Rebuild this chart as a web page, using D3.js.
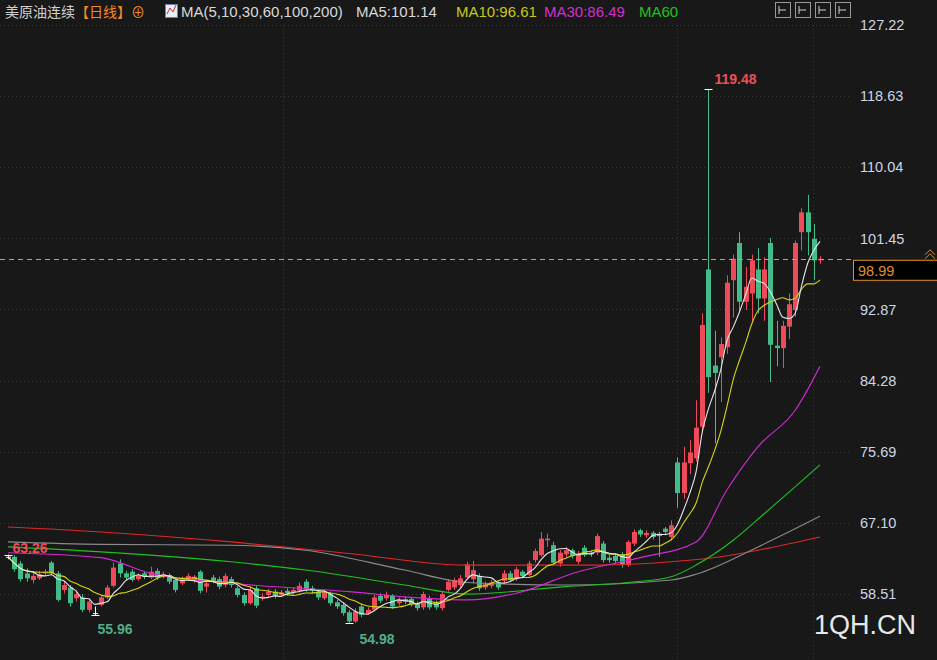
<!DOCTYPE html>
<html>
<head>
<meta charset="utf-8">
<script src="https://cdn.jsdelivr.net/npm/d3@7"></script>
<style>
  body { margin: 0; background: #181818; }
  svg { display: block; font-family: "Liberation Sans", Arial, sans-serif; }
</style>
</head>
<body>
<svg id="chart" width="937" height="660"></svg>
<script>
// candle data
const opens = [
  63.0,63.0,62.2,61.0,60.2,60.4,61.0,62.3,61.0,59.0,59.3,58.0,58.1,56.6,56.2,57.2,58.1,59.5,62.2,61.0,
  61.2,60.3,61.0,60.5,61.3,60.6,60.8,60.2,59.8,60.3,60.2,61.2,59.4,60.5,60.3,59.6,
  60.3,59.2,58.4,57.4,59.2,58.0,58.4,58.8,58.4,58.9,58.7,58.9,60.0,59.2,58.8,58.0,58.5,57.5,57.2,56.3,
  55.2,57.0,56.2,56.6,58.3,58.0,58.3,57.4,57.9,57.9,57.4,56.9,58.0,57.4,56.8,59.0,59.3,59.6,60.5,
  60.3,60.7,59.3,59.5,59.9,60.1,61.0,60.3,61.2,60.8,62.6,63.2,65.0,64.4,62.2,63.3,63.8,62.4,64.1,63.5,
  63.5,64.6,62.9,63.1,63.3,62.0,64.6,66.2,65.6,65.9,65.8,
  66.4,65.4,74.4,70.7,74.3,74.9,78.7,97.7,86.1,87.1,88.3,96.4,100.9,93.8,94.8,97.7,94.2,100.9,88.5,88.2,
  90.8,92.8,102.2,104.6,101.4,98.8
];
const closes = [
  63.0,61.5,60.3,60.4,60.7,60.9,61.2,61.0,57.8,59.6,57.4,58.5,56.6,57.6,56.2,58.1,59.3,61.7,61.0,60.5,
  60.2,60.8,60.6,61.2,60.5,60.9,60.0,59.0,60.3,60.7,60.6,58.9,59.8,60.1,59.4,60.7,
  59.6,58.4,57.4,59.0,57.1,58.2,58.8,58.3,58.7,58.6,59.0,59.5,59.1,58.9,58.1,58.8,57.4,57.0,56.2,55.2,
  56.4,56.0,56.6,58.1,57.7,58.4,57.0,57.8,57.6,57.3,56.8,58.5,56.9,56.9,58.5,60.0,60.2,60.4,62.1,
  61.4,59.2,59.7,59.9,59.3,61.0,60.2,61.5,60.7,62.2,63.7,65.2,65.2,62.3,63.5,63.8,63.1,63.4,63.2,63.3,
  65.5,62.6,62.6,62.5,62.0,64.8,66.0,65.7,65.9,65.4,65.5,
  66.0,66.8,70.7,74.4,75.6,78.6,91.0,84.7,85.2,88.7,96.1,99.0,93.8,95.6,98.8,94.2,97.7,88.6,88.2,90.9,
  93.5,100.9,104.6,102.2,98.8,98.99
];
const highs = [
  63.26,63.2,62.5,61.6,61.2,61.3,61.5,62.5,61.3,60.0,59.6,58.9,58.5,58.0,57.0,58.4,59.6,62.3,62.7,61.3,
  61.5,61.0,61.2,61.8,61.6,61.2,61.0,60.4,60.6,61.0,60.8,61.4,60.1,60.8,60.6,61.0,
  60.6,59.5,58.7,59.4,59.5,58.6,59.1,59.1,59.0,59.2,59.3,59.9,60.3,59.5,59.0,59.1,58.8,57.8,57.5,56.6,
  56.8,57.3,56.9,58.4,58.6,58.8,58.5,58.1,58.2,58.1,57.6,58.8,58.3,57.7,58.8,60.3,60.5,60.8,62.4,
  62.5,61.0,60.0,60.2,60.1,61.4,61.3,61.8,61.4,62.5,64.0,66.0,65.8,64.8,63.8,64.2,64.0,63.7,64.4,63.8,
  65.8,64.9,63.2,63.4,63.6,65.0,66.3,66.4,66.2,66.1,66.0,
  66.6,67.4,75.0,76.3,77.1,81.9,92.4,119.48,90.3,89.5,97.0,99.5,102.2,98.0,99.5,100.3,99.2,101.5,91.5,91.5,
  94.8,101.2,105.1,106.7,103.2,99.3
];
const lows = [
  62.7,61.2,60.0,60.0,59.8,60.2,60.7,60.8,57.6,58.6,57.0,57.6,56.3,56.3,55.96,57.0,57.9,59.3,60.5,60.2,
  60.0,60.1,60.3,60.3,60.2,60.4,59.7,58.7,59.6,60.1,59.9,58.6,58.7,59.8,59.1,59.3,
  59.3,58.1,57.1,57.2,56.8,57.7,58.1,58.0,58.2,58.3,58.5,58.7,58.8,58.6,57.8,57.8,57.1,56.7,55.9,54.98,
  55.0,55.7,56.0,56.4,57.4,57.7,56.7,57.1,57.3,57.0,56.5,56.6,56.6,56.6,56.5,58.8,59.0,59.3,60.3,
  59.8,58.9,59.0,59.2,59.0,59.8,60.0,60.1,60.4,60.6,62.3,63.0,64.2,62.0,61.8,63.0,62.8,62.1,63.0,63.0,
  63.2,62.3,62.3,62.2,61.7,61.8,64.3,65.4,65.3,65.1,63.0,
  65.6,65.0,68.9,70.0,73.0,74.5,78.0,82.8,76.7,81.7,87.5,91.9,92.7,92.8,91.2,92.4,91.5,84.1,86.0,85.8,
  89.3,92.0,100.0,99.4,96.4,98.4
];

// long moving averages as [candle index, value]
const ma30 = [[0,63.5],[15,62.9],[23,61.0],[36,59.8],[47,59.2],[55,58.8],[65,58.1],[74,57.8],[82,58.6],[92,61.2],[102,62.9],[111,64.8],[116,71.1],[121,76.3],[127,80.7],[131,86.0]];
const ma60 = [[0,64.2],[15,63.6],[36,62.4],[48,61.4],[64,59.6],[74,58.5],[90,59.4],[100,59.9],[107,60.6],[111,62.0],[117,65.0],[122,68.2],[131,74.1]];
const ma100 = [[0,64.8],[15,64.5],[36,64.4],[48,63.8],[64,61.4],[74,59.9],[90,59.6],[107,60.2],[111,60.9],[121,64.2],[131,67.9]];
const ma200 = [[0,66.6],[15,66.0],[36,64.8],[55,63.4],[74,62.0],[95,62.0],[107,62.4],[115,63.0],[121,63.8],[131,65.4]];

const yTicks = [127.22, 118.63, 110.04, 101.45, 92.87, 84.28, 75.69, 67.10, 58.51];
const gridX = [283, 677, 813];

const RED = "#ee4a5a", GREEN = "#45bb8a";
const svg = d3.select("#chart");
const n = closes.length;

const x = d3.scaleLinear().domain([0, n - 1]).range([8, 820]);
const y = d3.scaleLinear().domain([58.51, 127.22]).range([594, 25]);

// grid
svg.append("g").selectAll("line").data(yTicks).enter().append("line")
  .attr("x1", 0).attr("x2", 850)
  .attr("y1", d => Math.round(y(d)) + 0.5).attr("y2", d => Math.round(y(d)) + 0.5)
  .attr("stroke", "#3a3a3a").attr("stroke-dasharray", "1,3");
svg.append("g").selectAll("line").data(gridX).enter().append("line")
  .attr("x1", d => d + 0.5).attr("x2", d => d + 0.5).attr("y1", 25).attr("y2", 660)
  .attr("stroke", "#3a3a3a").attr("stroke-dasharray", "1,3");

// right axis
const axis = d3.axisRight(y).tickValues(yTicks).tickSize(0).tickFormat(d3.format(".2f"));
const ag = svg.append("g").attr("transform", "translate(857,0)").call(axis);
ag.select(".domain").remove();
ag.selectAll("text").attr("fill", "#cdd6e6").style("font-size", "14.5px");

// moving averages
const line = d3.line().x(d => x(d[0])).y(d => y(d[1])).curve(d3.curveMonotoneX);
const movingAvg = (k) => closes.map((c, i) => [i, d3.mean(closes.slice(Math.max(0, i - k + 1), i + 1))]);
const maSeries = [
  [ma200, "#e02828"], [ma100, "#8a8a8a"], [ma60, "#1fc21f"], [ma30, "#d22ad2"],
  [movingAvg(10), "#d6d60e"], [movingAvg(5), "#e6e6e6"]
];

// candles
const cg = svg.append("g");
const col = i => closes[i] > opens[i] ? RED : (closes[i] < opens[i] ? GREEN : "#ffffff");
cg.selectAll("line").data(d3.range(n)).enter().append("line")
  .attr("x1", i => Math.round(x(i)) + 0.5).attr("x2", i => Math.round(x(i)) + 0.5)
  .attr("y1", i => y(highs[i])).attr("y2", i => y(lows[i]))
  .attr("stroke", col);
cg.selectAll("rect").data(d3.range(n)).enter().append("rect")
  .attr("x", i => Math.round(x(i)) - 2).attr("width", 5)
  .attr("y", i => y(Math.max(opens[i], closes[i])))
  .attr("height", i => Math.max(1, Math.abs(y(opens[i]) - y(closes[i]))))
  .attr("fill", col);

svg.append("g").selectAll("path").data(maSeries).enter().append("path")
  .attr("d", d => line(d[0])).attr("fill", "none")
  .attr("stroke", d => d[1]).attr("stroke-width", 1.1);

// extreme markers
const marks = [
  { i: 0, v: 63.26, text: "63.26", color: RED, dx: 4, dy: -3 },
  { i: 14, v: 55.96, text: "55.96", color: "#4fae88", dx: 2, dy: 18 },
  { i: 55, v: 54.98, text: "54.98", color: "#4fae88", dx: 10, dy: 20 },
  { i: 113, v: 119.48, text: "119.48", color: "#e8505b", dx: 6, dy: -6 }
];
marks.forEach(m => {
  const cx = Math.round(x(m.i)) + 0.5, cy = Math.round(y(m.v)) + 0.5;
  svg.append("line").attr("x1", cx - 4).attr("x2", cx + 4).attr("y1", cy).attr("y2", cy).attr("stroke", "#fff");
  svg.append("text").attr("x", cx + m.dx).attr("y", cy + m.dy).text(m.text)
    .attr("fill", m.color).style("font-size", "14px").style("font-weight", "bold");
});

// last price line and tag
const last = closes[n - 1];
svg.append("line").attr("x1", 0).attr("x2", 852)
  .attr("y1", Math.round(y(last)) + 0.5).attr("y2", Math.round(y(last)) + 0.5)
  .attr("stroke", "#f0962a").attr("stroke-width", 1.2).attr("stroke-dasharray", "5,4");
svg.append("rect").attr("x", 853.5).attr("y", y(last) + 1.5).attr("width", 90).attr("height", 20)
  .attr("fill", "#000").attr("stroke", "#e0902a");
svg.append("text").attr("x", 858).attr("y", y(last) + 17).text(last.toFixed(2))
  .attr("fill", "#e0902a").style("font-size", "14.5px");
svg.append("path").attr("d", `M925 ${y(last) - 4}l5 -5l5 5M925 ${y(last)}l5 -5l5 5`)
  .attr("stroke", "#e0902a").attr("fill", "none");

// legend
const lg = svg.append("text").attr("x", 5).attr("y", 17).style("font-size", "14px")
  .style("font-family", "'Noto Sans CJK SC', sans-serif");
lg.append("tspan").text("美原油连续").attr("fill", "#d0d0d0");
lg.append("tspan").text("【日线】").attr("fill", "#f08a24");
lg.append("tspan").text("⊕ ").attr("fill", "#f08a24");
svg.append("rect").attr("x", 165.5).attr("y", 4.5).attr("width", 12).attr("height", 13).attr("fill", "#e8eef8").attr("stroke", "#6a80b0");
svg.append("path").attr("d", "M167 14l3 -6l3 4l3 -7").attr("stroke", "#d03030").attr("fill", "none");
const legendItems = [
  ["MA(5,10,30,60,100,200)", 181, "#d8d8d8"],
  ["MA5:101.14", 356, "#d8d8d8"],
  ["MA10:96.61", 456, "#c8c818"],
  ["MA30:86.49", 544, "#d030d0"],
  ["MA60", 639, "#20c020"]
];
svg.append("g").selectAll("text").data(legendItems).enter().append("text")
  .attr("x", d => d[1]).attr("y", 17).text(d => d[0]).attr("fill", d => d[2])
  .style("font-size", "15px");

// toolbar icons
[775, 795, 815, 835].forEach(ix => {
  svg.append("rect").attr("x", ix + 0.5).attr("y", 2.5).attr("width", 15).attr("height", 15)
    .attr("fill", "none").attr("stroke", "#9a9a9a");
  svg.append("path").attr("d", `M${ix + 4} 6v8M${ix + 4} 10h7`).attr("stroke", "#cfcfcf");
});

// watermark
svg.append("text").attr("x", 814).attr("y", 634).text("1QH.CN")
  .attr("fill", "#e8e8e8").style("font-size", "27px");
</script>
</body>
</html>
